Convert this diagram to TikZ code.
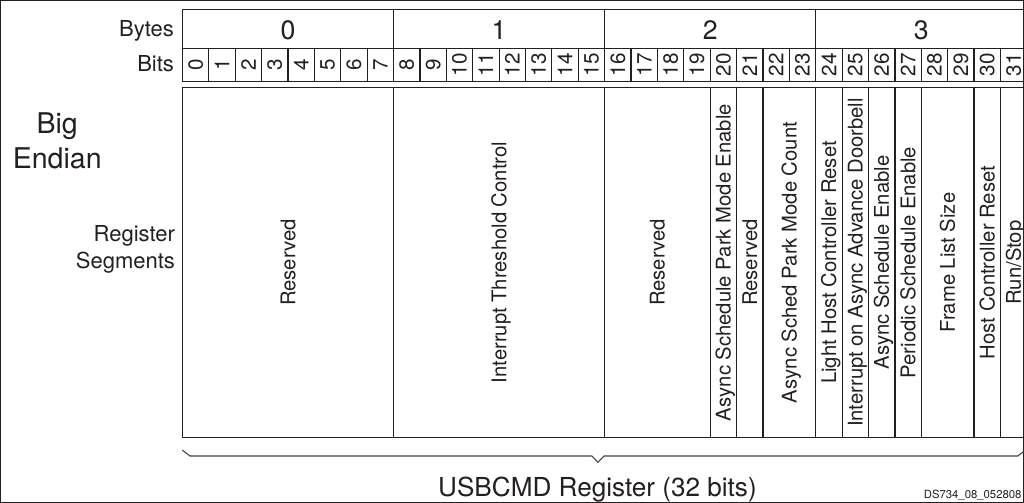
\documentclass[tikz,border=0pt]{standalone}
\usepackage{fontspec}
\setmainfont{TeX Gyre Heros}
\definecolor{ink}{HTML}{231F20}
\begin{document}
\begin{tikzpicture}[x=0.75pt,y=-0.75pt,
  every path/.style={draw=ink},
  grid/.style={draw=ink,line width=0.9pt},
  lbl/.style={inner sep=0pt,text=ink},
  rowlbl/.style={lbl,anchor=base east,font=\fontsize{16.5}{18}\selectfont},
  bytenum/.style={lbl,anchor=base,font=\fontsize{20}{22}\selectfont},
  bitnum/.style={lbl,rotate=90,anchor=center,font=\fontsize{15.5}{17}\selectfont},
  seglbl/.style={lbl,rotate=90,anchor=center,text height=10.9pt,text depth=0pt,font=\fontsize{15.2}{17}\selectfont},
  sidelbl/.style={lbl,anchor=base east,font=\fontsize{16.5}{18}\selectfont},
  biglbl/.style={lbl,anchor=base,font=\fontsize{21.4}{24}\selectfont},
  brace/.style={draw=ink!85,line width=0.8pt},
]
\useasboundingbox (0,0) rectangle (1024,502);
\def\xo{182.3}
\def\bw{26.4}
% header table
\draw[grid] (\xo,9.3) rectangle ({\xo+\bw*32},81);
\draw[grid] (\xo,48.3) -- ({\xo+\bw*32},48.3);
\foreach \i in {1,...,31} \draw[grid] ({\xo+\bw*\i},48.3) -- ({\xo+\bw*\i},81);
\foreach \i in {1,2,3} \draw[grid] ({\xo+\bw*8*\i},9.3) -- ({\xo+\bw*8*\i},81);
\node[rowlbl] (byteslbl) at (174,36.7) {Bytes};
\node[rowlbl] (bitslbl) at (174,71.7) {Bits};
\foreach \i in {0,...,3} \node[bytenum] (byte\i) at ({\xo+\bw*(8*\i+4)},39.3) {\i};
\foreach \i in {0,...,31} \node[bitnum] (bit\i) at ({\xo+\bw*(\i+0.5)},64.7) {\i};
% segments
\foreach \s/\e/\t [count=\k] in {0/8/Reserved, 8/16/Interrupt Threshold Control, 16/20/Reserved, 20/21/Async Schedule Park Mode Enable, 21/22/Reserved, 22/24/Async Sched Park Mode Count, 24/25/Light Host Controller Reset, 25/26/Interrupt on Async Advance Doorbell, 26/27/Async Schedule Enable, 27/28/Periodic Schedule Enable, 28/30/Frame List Size, 30/31/Host Controller Reset, 31/32/{Run/Stop}} {
  \draw[grid] ({\xo+\bw*\s},87.3) rectangle ({\xo+\bw*\e},437.5);
  \node[seglbl] (seg\k) at ({\xo+\bw*(\s+\e)/2},262.4) {\t};
}
% side labels
\node[biglbl] (big) at (57,133.3) {Big};
\node[biglbl] (endian) at (57,168.3) {Endian};
\node[sidelbl] (register) at (175,241) {Register};
\node[sidelbl] (segments) at (175,268.3) {Segments};
% brace
\coordinate (b1) at (182,450);
\coordinate (b2) at (190,456);
\coordinate (b3) at (592,456);
\coordinate (tip) at (598,462.3);
\coordinate (b5) at (604,456);
\coordinate (b6) at (1018,456);
\coordinate (b7) at (1026,450);
\draw[brace] (b1) -- (b2) -- (b3) -- (tip) -- (b5) -- (b6) -- (b7);
\node[lbl,anchor=base,font=\fontsize{19.6}{22}\selectfont] (title) at (597.5,496.7) {USBCMD Register (32 bits)};
\node[lbl,anchor=base east,font=\fontsize{8.5}{10}\selectfont] (code) at (1022,498) {DS734\_08\_052808};
\end{tikzpicture}
\end{document}
